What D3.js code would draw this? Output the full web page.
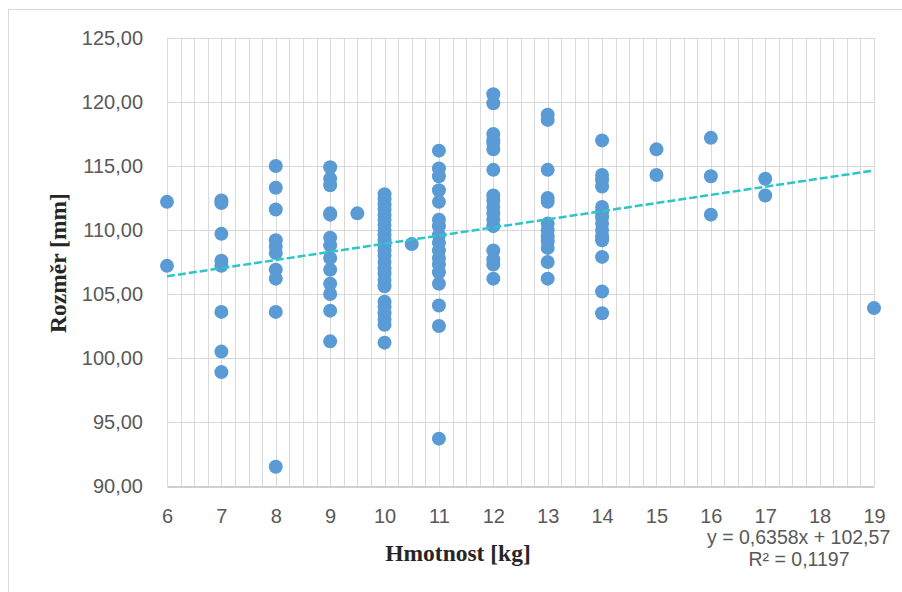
<!DOCTYPE html>
<html><head><meta charset="utf-8">
<script src="https://cdn.jsdelivr.net/npm/d3@7"></script>
<style>html,body{margin:0;padding:0;background:#fff;}svg{display:block;}</style>
</head><body>
<svg id="c" width="902" height="592"></svg>
<script>
// Data: weight (kg) groups and measured size (mm)
const weights = [6, 7, 8, 9, 9.5, 10, 10.5, 11, 12, 13, 14, 15, 16, 17, 19];
const sizes = [
  [112.2, 107.2],
  [112.3, 112.1, 109.7, 107.6, 107.2, 103.6, 100.5, 98.9],
  [115.0, 113.3, 111.6, 109.2, 108.7, 108.2, 106.9, 106.2, 103.6, 91.5],
  [114.9, 114.0, 113.5, 111.3, 111.2, 109.4, 108.8, 107.8, 106.9, 105.8, 105.0, 103.7, 101.3],
  [111.3],
  [112.8, 112.4, 112.0, 111.6, 111.2, 110.8, 110.4, 110.0, 109.6, 109.2, 108.8, 108.4, 108.0, 107.5, 107.0, 106.6, 106.1, 105.6, 104.4, 104.0, 103.5, 103.0, 102.6, 101.2],
  [108.9],
  [116.2, 114.8, 114.2, 113.1, 112.2, 110.8, 110.3, 109.6, 109.0, 108.4, 107.8, 107.3, 106.7, 105.8, 104.1, 102.5, 93.7],
  [120.6, 119.9, 117.5, 117.0, 116.8, 116.3, 114.7, 112.7, 112.3, 111.8, 111.3, 110.8, 110.3, 108.4, 107.7, 107.3, 106.2],
  [119.0, 118.6, 114.7, 112.5, 112.2, 110.5, 110.0, 109.5, 109.1, 108.6, 107.5, 106.2],
  [117.0, 114.3, 113.9, 113.4, 111.8, 111.4, 111.0, 110.5, 110.0, 109.5, 109.2, 107.9, 105.2, 103.5],
  [116.3, 114.3],
  [117.2, 114.2, 111.2],
  [114.0, 112.7],
  [103.9]
];
const xTicks = [6, 7, 8, 9, 10, 11, 12, 13, 14, 15, 16, 17, 18, 19];
const yTicks = [90, 95, 100, 105, 110, 115, 120, 125];
const trendSlope = 0.6358;
const trendIntercept = 102.57;
const trendLabel1 = "y = 0,6358x + 102,57";
const trendLabel2 = "R² = 0,1197";
const xTitle = "Hmotnost [kg]";
const yTitle = "Rozměr [mm]";

const points = [];
weights.forEach((w, i) => sizes[i].forEach(s => points.push({x: w, y: s})));

const svg = d3.select("#c");
const L = 167, R = 874, T = 38, B = 486;
const x = d3.scaleLinear().domain([6, 19]).range([L, R]);
const y = d3.scaleLinear().domain([90, 125]).range([B, T]);

// chart border
svg.append("rect").attr("x", 8.5).attr("y", 9.5).attr("width", 900).attr("height", 600)
  .attr("fill", "none").attr("stroke", "#D9D9D9").attr("stroke-width", 1);

// minor vertical gridlines
const minor = d3.range(6, 19.001, 0.25);
svg.append("g").selectAll("line").data(minor).join("line")
  .attr("x1", d => Math.round(x(d)) + 0.5).attr("x2", d => Math.round(x(d)) + 0.5)
  .attr("y1", T).attr("y2", B)
  .attr("stroke", "#D9D9D9").attr("stroke-width", 1);

// horizontal gridlines
svg.append("g").selectAll("line").data(yTicks.filter(d => d !== 90)).join("line")
  .attr("x1", L).attr("x2", R + 1)
  .attr("y1", d => Math.round(y(d)) + 0.5).attr("y2", d => Math.round(y(d)) + 0.5)
  .attr("stroke", "#D9D9D9").attr("stroke-width", 1);

// bottom axis
const xAxis = d3.axisBottom(x).tickValues(xTicks).tickSize(0).tickPadding(22).tickFormat(d3.format("d"));
const gx = svg.append("g").attr("transform", `translate(0,${Math.round(B) + 0.5})`).call(xAxis);
gx.select(".domain").attr("stroke", "#BFBFBF").attr("stroke-width", 1.3);
gx.selectAll("text").attr("font-family", "'Liberation Sans', Arial, sans-serif").attr("font-size", 20).attr("fill", "#595959");

// left axis
const yAxis = d3.axisLeft(y).tickValues(yTicks).tickSize(0).tickPadding(24)
  .tickFormat(d => d.toFixed(2).replace(".", ","));
const gy = svg.append("g").attr("transform", `translate(${L},0)`).call(yAxis);
gy.select(".domain").remove();
gy.selectAll("text").attr("font-family", "'Liberation Sans', Arial, sans-serif").attr("font-size", 20).attr("fill", "#595959");

// points
svg.append("g").selectAll("circle").data(points).join("circle")
  .attr("cx", d => x(d.x)).attr("cy", d => y(d.y)).attr("r", 7)
  .attr("fill", "#5B9BD5");

// trendline
const trendX = [6, 19];
svg.append("line")
  .attr("x1", x(trendX[0])).attr("y1", y(trendSlope * trendX[0] + trendIntercept))
  .attr("x2", x(trendX[1])).attr("y2", y(trendSlope * trendX[1] + trendIntercept))
  .attr("stroke", "#2DC5C8").attr("stroke-width", 2.5).attr("stroke-dasharray", "8,3");

// axis titles
svg.append("text").attr("x", 458).attr("y", 561).attr("text-anchor", "middle")
  .attr("font-family", "'Liberation Serif', 'Times New Roman', serif").attr("font-weight", "bold")
  .attr("font-size", 23.5).attr("fill", "#262626").text(xTitle);
svg.append("text").attr("transform", "translate(66,263) rotate(-90)").attr("text-anchor", "middle")
  .attr("font-family", "'Liberation Serif', 'Times New Roman', serif").attr("font-weight", "bold")
  .attr("font-size", 23.5).attr("fill", "#262626").text(yTitle);

// trendline label
svg.append("text").attr("x", 707).attr("y", 544).attr("text-anchor", "start")
  .attr("font-family", "'Liberation Sans', Arial, sans-serif").attr("font-size", 19.5).attr("fill", "#595959").text(trendLabel1);
svg.append("text").attr("x", 799).attr("y", 566).attr("text-anchor", "middle")
  .attr("font-family", "'Liberation Sans', Arial, sans-serif").attr("font-size", 19.5).attr("fill", "#595959").text(trendLabel2);
</script>
</body></html>
